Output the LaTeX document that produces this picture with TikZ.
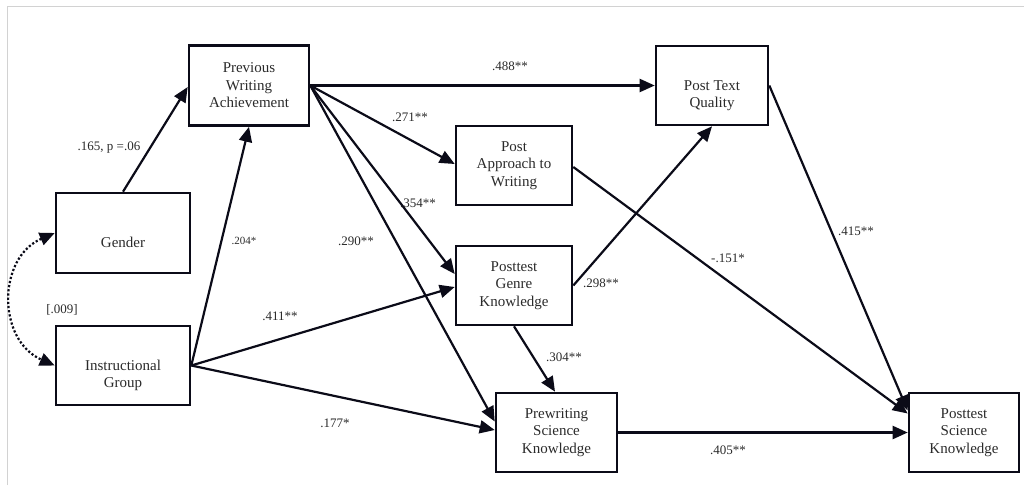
\documentclass[tikz,border=0pt]{standalone}
\usepackage{fontspec}
\setmainfont{Liberation Serif}
\usetikzlibrary{arrows.meta}
\definecolor{ink}{HTML}{0B0B18}
\definecolor{txt}{HTML}{2A2A2A}
\tikzset{
  box/.style={draw=ink, line width=2.6pt, rectangle, align=center, text=txt,
    inner sep=0pt, font=\fontsize{15}{17.5}\selectfont},
  path/.style={draw=ink, line width=2.2pt, -{Triangle[length=15pt,width=13pt]}},
  lab/.style={text=txt, inner sep=0pt, font=\fontsize{13}{15}\selectfont},
  smalllab/.style={text=txt, inner sep=0pt, font=\fontsize{11}{13}\selectfont},
}
\begin{document}
\begin{tikzpicture}[x=1pt,y=-1pt]
\useasboundingbox (0,0) rectangle (1024,485);
\draw[gray!35, line width=1pt] (7,485) -- (7,6) -- (1024,6);

\node[box, minimum width=120pt, minimum height=80pt] (pwa) at (249,85.5) {Previous\\Writing\\Achievement};
\node[box, minimum width=134pt, minimum height=80pt] (gen) at (123,233) {\strut\\Gender};
\node[box, minimum width=134pt, minimum height=79pt] (ig) at (123,365.5) {\strut\\Instructional\\Group};
\node[box, minimum width=116pt, minimum height=79pt] (paw) at (514,165.5) {Post\\Approach to\\Writing};
\node[box, minimum width=112pt, minimum height=79pt] (ptq) at (712,85.5) {\strut\\Post Text\\Quality};
\node[box, minimum width=116pt, minimum height=79pt] (pgk) at (514,285.5) {Posttest\\Genre\\Knowledge};
\node[box, minimum width=121pt, minimum height=79pt] (psk) at (556.5,432.5) {Prewriting\\Science\\Knowledge};
\node[box, minimum width=110pt, minimum height=79pt] (posk) at (964,432.5) {Posttest\\Science\\Knowledge};

\draw[path] (gen.north) -- ([yshift=-1.5pt]pwa.west);
\draw[path] (ig.east) -- (pwa.south);
\draw[path] (ig.east) -- ([yshift=-1.5pt]pgk.west);
\draw[path] (ig.east) -- ([yshift=2.5pt]psk.west);
\draw[path] (pwa.east) -- (ptq.west);
\draw[path] (pwa.east) -- ([yshift=1.5pt]paw.west);
\draw[path] (pwa.east) -- ([yshift=11.5pt]pgk.west);
\draw[path] (pwa.east) -- ([yshift=11pt]psk.west);
\draw[path] ([yshift=-1.5pt]paw.east) -- ([yshift=19pt]posk.west);
\draw[path] (ptq.east) -- ([yshift=22pt]posk.west);
\draw[path] (pgk.east) -- (ptq.south);
\draw[path] (pgk.south) -- ([xshift=-1.5pt]psk.north);
\draw[path] (psk.east) -- (posk.west);
\draw[draw=ink, line width=2.2pt, dotted, {Triangle[length=15pt,width=13pt]}-{Triangle[length=15pt,width=13pt]}]
  (gen.west) .. controls (-3,258) and (-3,340) .. (ig.west);

\node[lab] (l165) at (109,148) {.165, p =.06};
\node[smalllab] (l204) at (244,241) {.204*};
\node[lab] (l290) at (356,241) {.290**};
\node[lab] (l354) at (418,203) {.354**};
\node[lab] (l271) at (410,117) {.271**};
\node[lab] (l488) at (510,66) {.488**};
\node[lab] (l009) at (62,310) {[.009]};
\node[lab] (l411) at (280,316) {.411**};
\node[lab] (l177) at (335,423) {.177*};
\node[lab] (l298) at (601,283) {.298**};
\node[lab] (l304) at (564,357) {.304**};
\node[lab] (l151) at (728,258) {-.151*};
\node[lab] (l405) at (728,450) {.405**};
\node[lab] (l415) at (856,231) {.415**};
\end{tikzpicture}
\end{document}
